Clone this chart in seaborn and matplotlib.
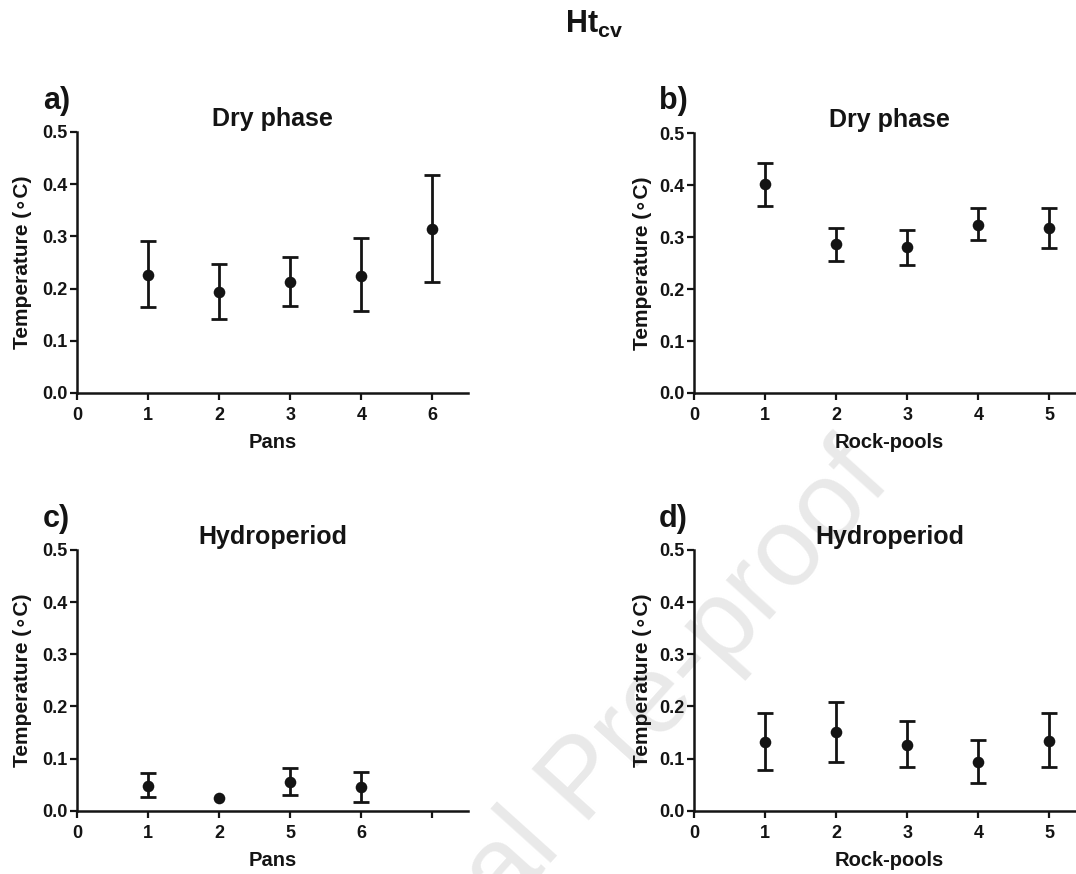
import numpy as np
import matplotlib
matplotlib.use("Agg")
import matplotlib.pyplot as plt
import seaborn as sns

# ---------------- data ----------------
a_labels = ["1", "2", "3", "4", "6"]
a_mean = [0.227, 0.194, 0.213, 0.225, 0.315]
a_lo = [0.165, 0.142, 0.167, 0.158, 0.213]
a_hi = [0.291, 0.248, 0.261, 0.297, 0.418]

b_labels = ["1", "2", "3", "4", "5"]
b_mean = [0.401, 0.286, 0.281, 0.324, 0.317]
b_lo = [0.360, 0.254, 0.247, 0.295, 0.278]
b_hi = [0.442, 0.317, 0.314, 0.355, 0.356]

c_labels = ["1", "2", "5", "6"]
c_mean = [0.048, 0.025, 0.056, 0.046]
c_lo = [0.026, np.nan, 0.031, 0.017]
c_hi = [0.073, np.nan, 0.081, 0.074]

d_labels = ["1", "2", "3", "4", "5"]
d_mean = [0.131, 0.150, 0.126, 0.094, 0.134]
d_lo = [0.079, 0.093, 0.083, 0.054, 0.084]
d_hi = [0.187, 0.208, 0.172, 0.136, 0.187]

y_ticks = [0.0, 0.1, 0.2, 0.3, 0.4, 0.5]
y_ticklabels = ["0.0", "0.1", "0.2", "0.3", "0.4", "0.5"]

# ---------------- style ----------------
sns.set_style("ticks")
plt.rcParams["font.family"] = ["Liberation Sans", "DejaVu Sans"]
plt.rcParams["font.weight"] = "bold"
plt.rcParams["axes.labelweight"] = "bold"
plt.rcParams["axes.titleweight"] = "bold"
plt.rcParams["mathtext.fontset"] = "custom"
plt.rcParams["mathtext.rm"] = "Liberation Sans:bold"
plt.rcParams["mathtext.bf"] = "Liberation Sans:bold"
plt.rcParams["mathtext.it"] = "Liberation Sans:bold"

INK = "#141414"
W, H = 1076, 874
fig = plt.figure(figsize=(W / 100, H / 100), dpi=100)


def px_axes(left, top, right, bottom):
    return fig.add_axes([left / W, 1 - bottom / H, (right - left) / W, (bottom - top) / H])


ax_a = px_axes(77, 132, 468, 393)
ax_b = px_axes(694, 133, 1085, 393)
ax_c = px_axes(77, 550, 468, 810.7)
ax_d = px_axes(694, 550, 1085, 810.7)


def draw(ax, labels, mean, lo, hi, tick_labels, title, xlabel, letter, ylab_x):
    ax.set_facecolor("none")
    pos = np.arange(1, len(labels) + 1)
    mean = np.asarray(mean, float)
    lo = np.asarray(lo, float)
    hi = np.asarray(hi, float)
    ok = ~np.isnan(lo)
    ax.errorbar(pos[ok], mean[ok], yerr=[mean[ok] - lo[ok], hi[ok] - mean[ok]],
                fmt="none", ecolor=INK, elinewidth=2.0, capsize=5.5, capthick=2.0, zorder=2)
    sns.scatterplot(x=pos, y=mean, ax=ax, s=70, color=INK, edgecolor=INK,
                    linewidth=0, zorder=3, legend=False)
    ax.set_xlim(0, 5.5)
    ax.set_ylim(0, 0.5)
    ax.set_xticks(range(len(tick_labels)))
    ax.set_xticklabels(tick_labels)
    ax.set_yticks(y_ticks)
    ax.set_yticklabels(y_ticklabels)
    for s in ["top", "right"]:
        ax.spines[s].set_visible(False)
    for s in ["left", "bottom"]:
        ax.spines[s].set_linewidth(1.8)
        ax.spines[s].set_color(INK)
    ax.tick_params(axis="both", direction="out", length=5, width=1.6, color=INK,
                   labelsize=13, labelcolor=INK)
    ax.tick_params(axis="x", pad=5)
    ax.tick_params(axis="y", pad=2)
    for t in ax.get_xticklabels() + ax.get_yticklabels():
        t.set_fontweight("bold")
    ax.set_title(title, fontsize=18, fontweight="bold", color=INK, pad=4)
    ax.set_xlabel(xlabel, fontsize=14.5, fontweight="bold", color=INK)
    ax.set_ylabel("Temperature (\u2218C)", fontsize=15, fontweight="bold", color=INK)
    ax.xaxis.set_label_coords(0.5, -0.155)
    ax.yaxis.set_label_coords(ylab_x, 0.5)
    ax.text(letter[1], letter[2], letter[0], transform=fig.transFigure,
            fontsize=22, fontweight="bold", color=INK, ha="left", va="baseline")


draw(ax_a, a_labels, a_mean, a_lo, a_hi, ["0"] + a_labels, "Dry phase", "Pans",
     ("a)", 43 / W, 1 - 109 / H), -0.115)
draw(ax_b, b_labels, b_mean, b_lo, b_hi, ["0"] + b_labels, "Dry phase", "Rock-pools",
     ("b)", 659 / W, 1 - 109 / H), -0.107)
draw(ax_c, c_labels, c_mean, c_lo, c_hi, ["0"] + c_labels + [""], "Hydroperiod", "Pans",
     ("c)", 43 / W, 1 - 527 / H), -0.115)
draw(ax_d, d_labels, d_mean, d_lo, d_hi, ["0"] + d_labels, "Hydroperiod", "Rock-pools",
     ("d)", 659 / W, 1 - 527 / H), -0.107)

fig.text(565 / W, 1 - 33 / H, r"$\mathbf{Ht}_{\mathbf{cv}}$", fontsize=22,
         color=INK, ha="left", va="baseline")

# faint watermark
fig.text(606 / W, 1 - 802 / H, "Journal Pre-proof", rotation=48, fontsize=80,
         fontweight="normal", color="#e9e9e9", ha="center", va="baseline",
         rotation_mode="anchor", zorder=-5)

fig.savefig("out.png", dpi=100)
